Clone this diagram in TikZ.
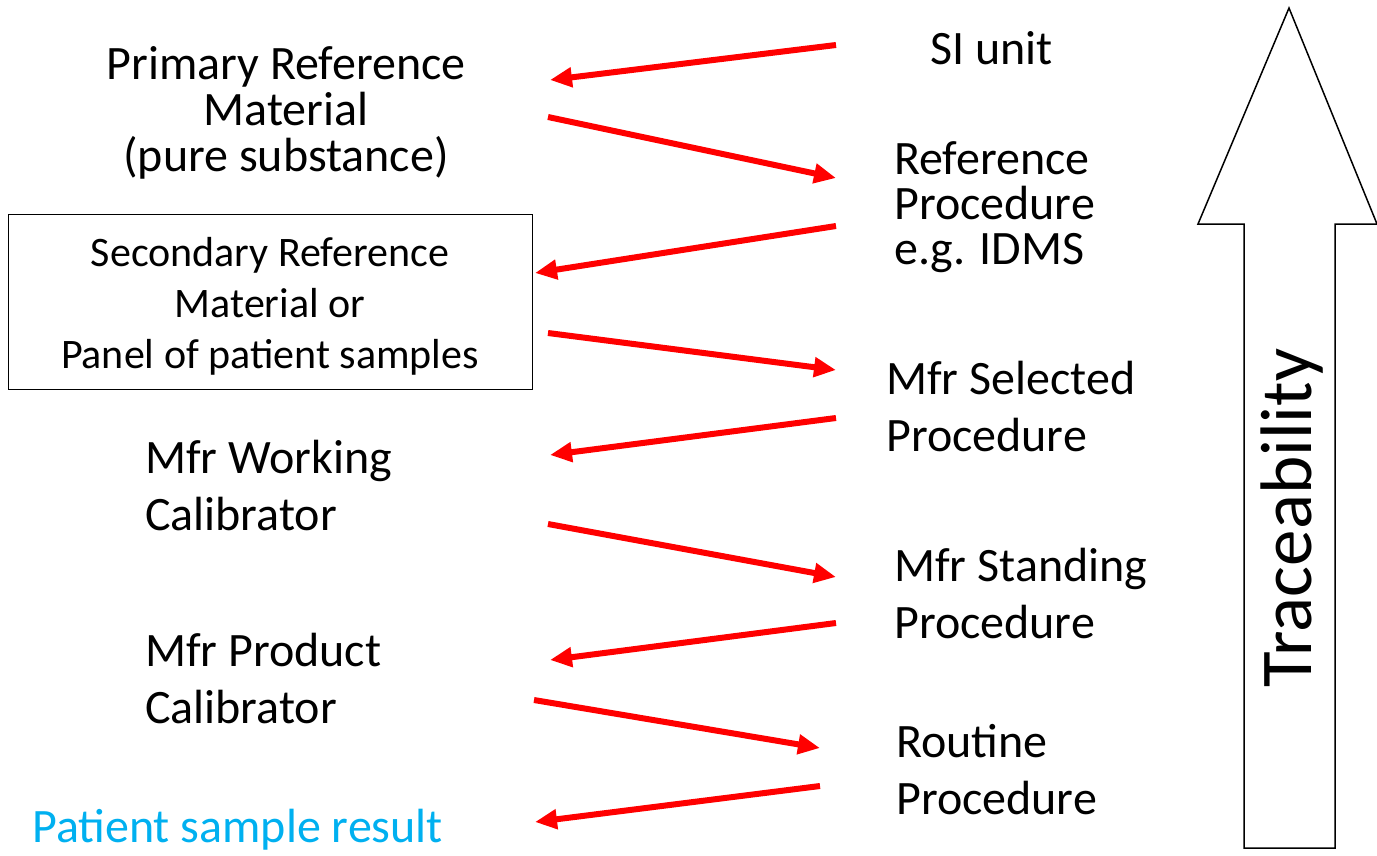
\documentclass[tikz,border=0pt]{standalone}
\usepackage{fontspec}
\setmainfont{Carlito}
\usetikzlibrary{arrows.meta}
\definecolor{skyblue}{RGB}{0,176,240}
\tikzset{
	lbl/.style={inner sep=0pt,align=left,anchor=west,font=\fontsize{48}{57}\selectfont},
	redarrow/.style={draw=red,line width=6pt,-{Triangle[length=22pt,width=19pt]}}
}
\begin{document}
\begin{tikzpicture}[x=1pt,y=-1pt]
			\useasboundingbox (0,0) rectangle (1377,856);
			\node[inner sep=0pt,align=center,font=\fontsize{48}{46}\selectfont] (prm) at (286,113) {Primary Reference\\Material\\(pure substance)};
			\draw[line width=1pt] (8,214) rectangle (532,389);
			\node[inner sep=0pt,align=center,font=\fontsize{42}{51}\selectfont] (srm) at (270,306) {Secondary Reference\\Material or\\Panel of patient samples};
			\node[lbl] (mwc) at (145,486) {Mfr Working\\Calibrator};
			\node[lbl] (mpc) at (145,679) {Mfr Product\\Calibrator};
			\node[lbl,text=skyblue] (psr) at (32,830) {Patient sample result};
			\node[lbl] (si) at (930,48) {SI unit};
			\node[lbl,font=\fontsize{48}{45}\selectfont] (rp) at (894,207) {Reference\\Procedure\\e.g. IDMS};
			\node[lbl] (msp) at (886,407) {Mfr Selected\\Procedure};
			\node[lbl] (mst) at (894,594) {Mfr Standing\\Procedure};
			\node[lbl] (rop) at (896,770) {Routine\\Procedure};
			\coordinate (A1) at (836,45);
			\coordinate (B1) at (550,80);
			\coordinate (A2) at (548,117);
			\coordinate (B2) at (836,178);
			\coordinate (A3) at (836,226);
			\coordinate (B3) at (535,273);
			\coordinate (A4) at (548,333);
			\coordinate (B4) at (836,370);
			\coordinate (A5) at (836,418);
			\coordinate (B5) at (550,455);
			\coordinate (A6) at (548,524);
			\coordinate (B6) at (836,577);
			\coordinate (A7) at (836,623);
			\coordinate (B7) at (550,660);
			\coordinate (A8) at (534,700);
			\coordinate (B8) at (820,748);
			\coordinate (A9) at (820,786);
			\coordinate (B9) at (535,822);
			\draw[redarrow] (A1) -- (B1);
			\draw[redarrow] (A2) -- (B2);
			\draw[redarrow] (A3) -- (B3);
			\draw[redarrow] (A4) -- (B4);
			\draw[redarrow] (A5) -- (B5);
			\draw[redarrow] (A6) -- (B6);
			\draw[redarrow] (A7) -- (B7);
			\draw[redarrow] (A8) -- (B8);
			\draw[redarrow] (A9) -- (B9);
			\draw[line width=1.5pt,line join=miter] (1244,848) -- (1244,224) -- (1198,224) -- (1289,8) -- (1377,224) -- (1335,224) -- (1335,848) -- cycle;
			\node[inner sep=0pt,rotate=90,font=\fontsize{73}{80}\selectfont] (trc) at (1292,518) {Traceability};
		\end{tikzpicture}
\end{document}
